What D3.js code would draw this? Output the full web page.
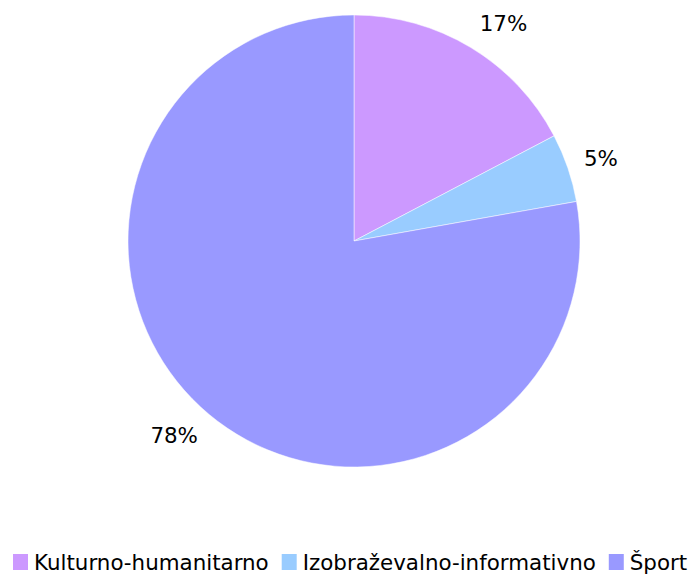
<!DOCTYPE html>
<html>
<head>
<meta charset="utf-8">
<script src="https://cdn.jsdelivr.net/npm/d3@7"></script>
<style>
  body { margin: 0; background: #fff; }
  text { font-family: "DejaVu Sans", Verdana, sans-serif; fill: #000; }
</style>
</head>
<body>
<div id="chart_div"></div>
<script>
var categories = ['Kulturno-humanitarno', 'Izobraževalno-informativno', 'Šport'];
var values = [17.3, 4.9, 77.8];
var labels = ['17%', '5%', '78%'];
var colors = ['#CC99FF', '#99CCFF', '#9999FF'];

function makePie() {
  const width = 689, height = 576;
  const cx = 354, cy = 241, radius = 226;
  const labelRadius = 243;
  const fontSize = 21.4;

  var svg = d3.select('#chart_div').append('svg')
      .attr('width', width)
      .attr('height', height);

  var data = categories.map(function (c, i) {
    return { name: c, value: values[i], label: labels[i], color: colors[i] };
  });

  var pie = d3.pie()
      .sort(null)
      .value(function (d) { return d.value; });

  var arc = d3.arc()
      .innerRadius(0)
      .outerRadius(radius);

  var g = svg.append('g')
      .attr('transform', `translate(${cx}, ${cy})`);

  var arcs = pie(data);

  g.selectAll('path')
    .data(arcs)
    .enter()
    .append('path')
    .attr('d', arc)
    .attr('fill', function (d) { return d.data.color; })
    .attr('stroke', '#fff')
    .attr('stroke-width', 0.5);

  // labels outside, box corner anchored at the mid angle
  var lbl = g.selectAll('text.lbl')
      .data(arcs)
      .enter()
      .append('text')
      .attr('class', 'lbl')
      .style('font-size', fontSize + 'px')
      .attr('text-anchor', 'middle')
      .attr('dominant-baseline', 'central')
      .text(function (d) { return d.data.label; });

  lbl.each(function (d) {
    var w = this.getComputedTextLength();
    var h = fontSize;
    var a = (d.startAngle + d.endAngle) / 2;
    var s = Math.sin(a), c = Math.cos(a);
    var x = labelRadius * s + (s >= 0 ? 1 : -1) * w / 2;
    var y = -labelRadius * c - c * h / 2;
    d3.select(this).attr('x', x).attr('y', y);
  });

  // legend
  var legend = svg.append('g')
      .attr('transform', 'translate(13, 570)');
  var x = 0;
  data.forEach(function (d) {
    var item = legend.append('g').attr('transform', `translate(${x}, 0)`);
    item.append('rect')
      .attr('x', 0)
      .attr('y', -16)
      .attr('width', 15)
      .attr('height', 16)
      .attr('fill', d.color);
    var t = item.append('text')
      .attr('x', 21)
      .attr('y', 0)
      .style('font-size', fontSize + 'px')
      .text(d.name);
    x += 21 + t.node().getComputedTextLength() + 13;
  });
}

makePie();
</script>
</body>
</html>
